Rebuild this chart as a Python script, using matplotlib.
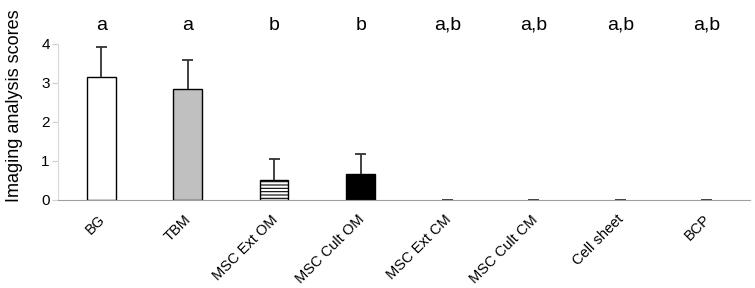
import numpy as np
import matplotlib
matplotlib.use("Agg")
import matplotlib.pyplot as plt

plt.rcParams.update({
    "font.family": ["Liberation Sans", "DejaVu Sans"],
    "font.size": 11,
    "hatch.linewidth": 0.8,
})

groups = ["BG", "TBM", "MSC Ext OM", "MSC Cult OM", "MSC Ext CM",
          "MSC Cult CM", "Cell sheet", "BCP"]
scores = np.array([3.15, 2.85, 0.50, 0.67, 0.0, 0.0, 0.0, 0.0])
errors = np.array([0.77, 0.73, 0.55, 0.52, 0.0, 0.0, 0.0, 0.0])
letters = ["a", "a", "b", "b", "a,b", "a,b", "a,b", "a,b"]
fills = ["white", "#c0c0c0", "white", "black", "white", "white", "white",
         "white"]
hatches = [None, None, "-----", None, None, None, None, None]

fig = plt.figure(figsize=(7.55, 2.88), dpi=100)
ax = fig.add_axes([0.0768, 0.3056, 0.9165, 0.6944])
x = np.arange(len(groups))
for i in range(len(groups)):
    if scores[i] > 0:
        ax.bar(x[i], scores[i], 0.33, color=fills[i], edgecolor="black",
               linewidth=1.0, hatch=hatches[i], zorder=2)
# upper error bars only
cap = 0.065
top = scores + errors
ax.vlines(x[errors > 0], scores[errors > 0], top[errors > 0],
          color="#333333", lw=1.3, zorder=3)
ax.hlines(top, x - cap, x + cap, color="#333333", lw=1.3, zorder=3)
for i, lbl in enumerate(letters):
    ax.text(x[i], 4.37, lbl, ha="center", va="baseline", fontsize=14)

ax.set_xlim(-0.5, 7.5)
ax.set_ylim(0, 200 / 39)
ax.set_yticks([0, 1, 2, 3, 4])
ax.set_xticks(x - 0.04)
ax.set_xticklabels(groups, rotation=45, ha="right", rotation_mode="anchor",
                   fontsize=10.5)
ax.tick_params(axis="x", length=0, pad=9)
ax.tick_params(axis="y", length=4, color="#d0d0d0", labelsize=11, pad=2)
ax.set_ylabel("Imaging analysis scores", fontsize=13)
ax.yaxis.set_label_coords(-0.05, 0.47)
for s in ["top", "right"]:
    ax.spines[s].set_visible(False)
ax.spines["left"].set_color("#d8d8d8")
ax.spines["left"].set_bounds(0, 4)
ax.spines["bottom"].set_color("#a0a0a0")
fig.savefig("out.png", dpi=100)
